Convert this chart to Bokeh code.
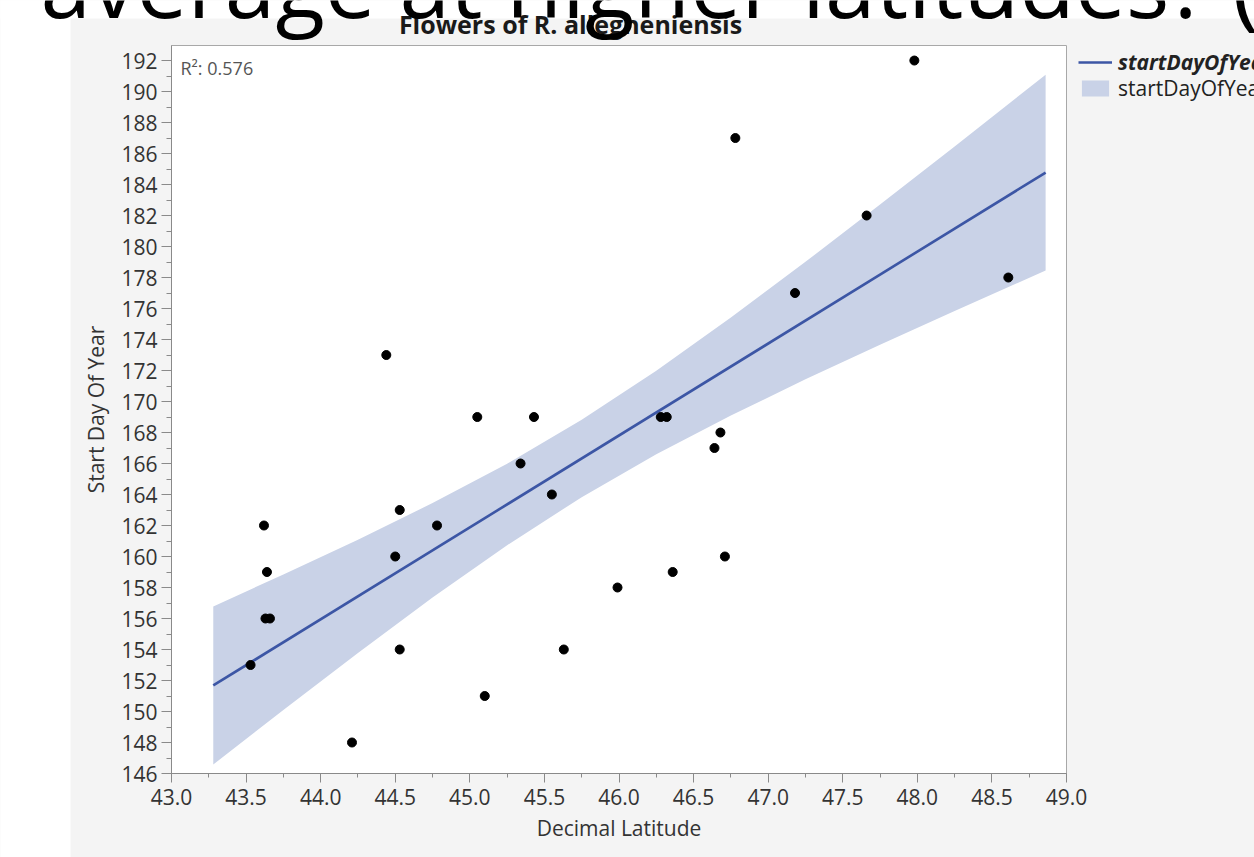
import numpy as np
from bokeh.plotting import figure
from bokeh.models import (Range1d, SingleIntervalTicker, PrintfTickFormatter, Label,
                          Legend, LegendItem)
from bokeh.embed import file_html
from bokeh.resources import INLINE

# ---------------- data ----------------
latitude = [47.98, 46.78, 47.66, 47.18, 48.61, 44.44, 45.05, 45.43, 46.28, 46.32,
            46.68, 46.64, 45.34, 45.55, 44.53, 44.78, 43.62, 44.50, 46.71, 46.36,
            43.64, 45.99, 43.63, 43.66, 44.53, 45.63, 43.53, 45.10, 44.21]
start_day = [192, 187, 182, 177, 178, 173, 169, 169, 169, 169,
             168, 167, 166, 164, 163, 162, 162, 160, 160, 159,
             159, 158, 156, 156, 154, 154, 153, 151, 148]

fit_lat = [43.28, 48.86]
fit_day = [151.68, 184.77]

band_lat = [43.28, 43.75, 44.25, 44.75, 45.25, 45.75, 46.25, 46.75, 47.25, 47.75, 48.25, 48.86]
band_lower = [146.58, 150.10, 153.78, 157.35, 160.73, 163.83, 166.59, 169.10, 171.43, 173.67, 175.84, 178.45]
band_upper = [156.78, 158.84, 161.08, 163.45, 165.99, 168.83, 171.99, 175.42, 179.01, 182.71, 186.46, 191.09]

x_axis_min, x_axis_max = 43.0, 49.0
y_axis_min, y_axis_max = 146.0, 192.97

r_squared = "0.576"
title_text = "Flowers of R. allegheniensis"
x_label = "Decimal Latitude"
y_label = "Start Day Of Year"
legend_labels = ["startDayOfYear", "startDayOfYear"]
slide_text = "average at higher latitudes? ("
where_text = "Where((Genus = Rubus) and (Species = allegheniensis) and (flowers >= 0.001 & flowers <= 1))"

# ---------------- layout (screen pixels) ----------------
W, H = 1254, 857
FL, FR, FT, FB = 171, 1066, 45, 773     # plot area inside the canvas


def dx(px):
    return x_axis_min + (px - FL) * (x_axis_max - x_axis_min) / (FR - FL)


def dy(py):
    return y_axis_min + (FB - py) * (y_axis_max - y_axis_min) / (FB - FT)


FONT = "Open Sans"
LINE_C = "#3c56a5"
BAND_C = "#c9d2e7"
PANEL_C = "#f4f4f4"
TEXT_C = "#333333"

p = figure(width=W, height=H,
           x_range=Range1d(dx(0), dx(W)), y_range=Range1d(dy(H), dy(0)),
           output_backend="svg", toolbar_location=None,
           min_border_left=0, min_border_right=0, min_border_top=0, min_border_bottom=0)
p.border_fill_color = PANEL_C
p.background_fill_color = PANEL_C
p.outline_line_color = None
p.grid.visible = False

# white surround of the JMP panel (slide background)
p.quad(left=[dx(-5)], right=[dx(70)], bottom=[dy(H + 5)], top=[dy(-5)],
       fill_color="white", line_color=None)
p.quad(left=[dx(-5)], right=[dx(W + 5)], bottom=[dy(18)], top=[dy(-5)],
       fill_color="white", line_color=None)
# plot area
p.quad(left=[x_axis_min], right=[x_axis_max], bottom=[y_axis_min], top=[y_axis_max],
       fill_color="white", line_color="#a8a8a8", line_width=1)

band_r = p.varea(x=band_lat, y1=band_lower, y2=band_upper, fill_color=BAND_C, fill_alpha=1)
line_r = p.line(fit_lat, fit_day, line_color=LINE_C, line_width=2.6)
p.scatter(latitude, start_day, size=9, color="black")

# axes drawn at the plot-area edges
xa = p.xaxis[0]
ya = p.yaxis[0]
xa.fixed_location = y_axis_min
ya.fixed_location = x_axis_min
xa.bounds = (x_axis_min, x_axis_max)
ya.bounds = (y_axis_min, y_axis_max)
for ax in (xa, ya):
    ax.axis_line_color = "#8a8a8a"
    ax.major_tick_line_color = "#8a8a8a"
    ax.minor_tick_line_color = "#8a8a8a"
    ax.major_label_text_font = FONT
    ax.major_label_text_font_size = "21px"
    ax.major_label_text_color = TEXT_C
    ax.axis_label_text_font = FONT
    ax.axis_label_text_font_size = "21px"
    ax.axis_label_text_font_style = "normal"
    ax.axis_label_text_color = TEXT_C

xa.ticker = SingleIntervalTicker(interval=0.5, num_minor_ticks=2)
xa.formatter = PrintfTickFormatter(format="%.1f")
xa.major_tick_out = 9
xa.major_tick_in = 0
xa.minor_tick_out = 4
xa.minor_tick_in = 0
xa.major_label_standoff = 6
xa.axis_label = x_label
xa.axis_label_standoff = 6

ya.ticker = SingleIntervalTicker(interval=2, num_minor_ticks=2)
ya.major_tick_out = 10
ya.major_tick_in = 0
ya.minor_tick_out = 5
ya.minor_tick_in = 0
ya.major_label_standoff = 4
ya.axis_label = y_label
ya.axis_label_standoff = 8

# legends (two, for two text styles)
leg1 = Legend(items=[LegendItem(label=legend_labels[0], renderers=[line_r])],
              location=(1078, H - 76), padding=0, margin=0, spacing=0,
              glyph_width=34, glyph_height=20, label_standoff=6,
              label_text_font=FONT, label_text_font_size="21px",
              label_text_font_style="bold italic", label_text_color="#222222",
              background_fill_alpha=0, border_line_alpha=0)
leg2 = Legend(items=[LegendItem(label=legend_labels[1], renderers=[band_r])],
              location=(1078, H - 102), padding=0, margin=0, spacing=0,
              glyph_width=34, glyph_height=20, label_standoff=6,
              label_text_font=FONT, label_text_font_size="21px",
              label_text_font_style="normal", label_text_color="#222222",
              background_fill_alpha=0, border_line_alpha=0)
p.add_layout(leg1)
p.add_layout(leg2)

# texts
p.add_layout(Label(x=dx(570), y=dy(23), text=title_text, text_align="center",
                   text_baseline="middle", text_font=FONT, text_font_size="25px",
                   text_font_style="bold", text_color="#1a1a1a"))
p.add_layout(Label(x=dx(180), y=dy(67), text="R\u00b2: " + r_squared, text_align="left",
                   text_baseline="middle", text_font=FONT, text_font_size="18px",
                   text_color="#555555"))
p.add_layout(Label(x=dx(40), y=dy(-18), text=slide_text, text_align="left",
                   text_baseline="alphabetic", text_font=FONT, text_font_size="91px",
                   text_color="black"))
p.add_layout(Label(x=dx(62), y=dy(850), text=where_text, text_align="left",
                   text_baseline="top", text_font=FONT, text_font_size="21px",
                   text_color=TEXT_C))

open("out.html", "w").write(file_html(p, INLINE))
